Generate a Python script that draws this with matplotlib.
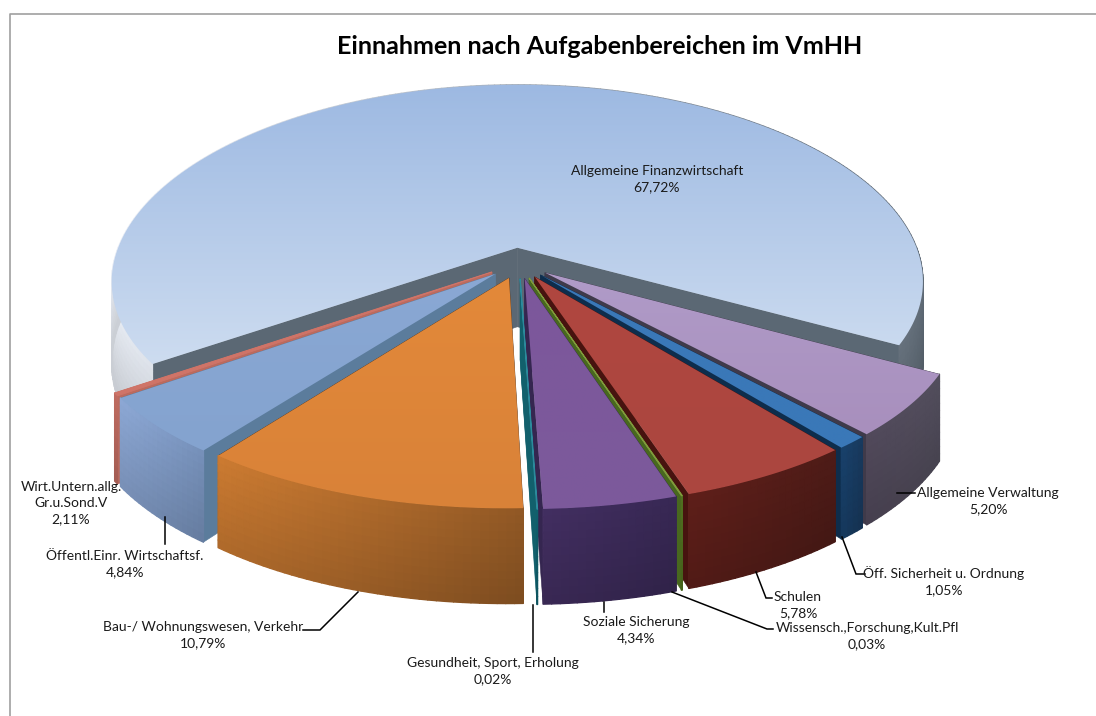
import numpy
import matplotlib
matplotlib.use("Agg")
import matplotlib.pyplot as plt
from matplotlib.collections import PolyCollection
from matplotlib.colors import to_rgb
from matplotlib.patches import Polygon

# clockwise from the end of the largest slice
categories = ["Allgemeine Verwaltung", "Öff. Sicherheit u. Ordnung", "Schulen", "Wissensch.,Forschung,Kult.Pfl",
    "Soziale Sicherung", "Gesundheit, Sport, Erholung", "Bau-/ Wohnungswesen, Verkehr", "Öffentl.Einr. Wirtschaftsf.",
    "Wirt.Untern.allg.\nGr.u.Sond.V", "Allgemeine Finanzwirtschaft"]
percentLabels = ["5,20%", "1,05%", "5,78%", "0,03%", "4,34%", "0,02%", "10,79%", "4,84%", "2,11%", "67,72%"]
# the red slice is drawn far thinner than its label says, the shares only reach 100 like this
shares = [5.20, 1.05, 5.78, 0.03, 4.34, 0.02, 10.79, 4.84, 0.23, 67.72]
topColorsA = ["#b09bc8", "#3a78b8", "#b0473f", "#7f9a3c", "#7c579b", "#2c8a9c", "#e3893a", "#8aa8d4", "#cf7468", "#9db9e2"]
topColorsB = ["#a88fbd", "#3a78b8", "#ab4640", "#7f9a3c", "#7c5a9c", "#2c8a9c", "#d98238", "#84a3cf", "#cf7468", "#cddcf0"]
wallColorsL = ["#4d4556", "#173f68", "#5a1d18", "#4c6a1e", "#3f2c5c", "#0f5c68", "#c2752f", "#86a0cb", "#b5665c", "#dfe3ea"]
wallColorsR = ["#4e4a58", "#17375a", "#4a1a16", "#4c6a1e", "#352650", "#0f5c68", "#8a5423", "#7089b0", "#b5665c", "#59646f"]
cutColors = ["#3f3a4a", "#0e2d4c", "#47130f", "#48681e", "#352650", "#12606c", "#5a3a20", "#5b7c9c", "#bb6a5e", "#5b6874"]
labelCenters = [(988, 501), (944, 581), (798, 605), (867, 636), (636, 630), (493, 671), (203, 635), (125, 564), (71, 503), (657, 179)]
leaderLines = [[(897, 493), (915, 493)], [(842, 537), (856, 574), (865, 574)], [(756, 572), (766, 598), (772, 598)],
    [(672, 592), (767, 629), (773, 629)], [(604, 602), (604, 612)], [(533, 605), (533, 652)],
    [(358, 592), (320, 630), (303, 630)], [(165, 517), (165, 544)], [], []]
title = "Einnahmen nach Aufgabenbereichen im VmHH"

startAngle = 119.0
centerX = 519.0
centerY = 263.0
radiusX = 405.0
radiusY = 191.3
perspectiveX = 0.18
perspectiveY = 0.1485
explode = 0.081
height = 80.0

def project(x, y, z = 0.0):
    scaleX = 1.0 / (1.0 + perspectiveX * y)
    scaleY = 1.0 / (1.0 + perspectiveY * y)
    return centerX + radiusX * x * scaleX, centerY - radiusY * y * scaleY + height * z * scaleY

def rimPoints(thetas, offset, z):
    points = []
    for theta in thetas:
        t = numpy.radians(theta)
        points.append(project(offset[0] + numpy.sin(t), offset[1] + numpy.cos(t), z))
    return points

def mix(colorA, colorB, f):
    a = numpy.array(to_rgb(colorA))
    b = numpy.array(to_rgb(colorB))
    return tuple(a + (b - a) * f)

def gradientFill(axes, points, colorA, colorB, zorder):
    # vertical gradient clipped to the polygon
    polygon = Polygon(points, closed = True, transform = axes.transData, facecolor = "none", edgecolor = "none")
    axes.add_patch(polygon)
    xs = [p[0] for p in points]
    ys = [p[1] for p in points]
    rows = numpy.linspace(0, 1, 64)
    image = numpy.array([[mix(colorA, colorB, f)] for f in rows])
    drawn = axes.imshow(image, extent = (min(xs) - 1, max(xs) + 1, max(ys) + 1, min(ys) - 1), aspect = "auto", zorder = zorder, interpolation = "bilinear")
    drawn.set_clip_path(polygon)

figure = plt.figure(figsize = (10.96, 7.16), dpi = 100)
axes = figure.add_axes([0, 0, 1, 1])
plt.rcParams["font.family"] = "Lato"

# cumulative angles, clockwise from straight back
angles = [startAngle]
for share in shares:
    angles.append(angles[-1] + share / sum(shares) * 360.0)
slices = []
for index in range(len(shares)):
    mid = numpy.radians((angles[index] + angles[index + 1]) / 2.0)
    slices.append((numpy.cos(mid), index))
slices.sort(reverse = True)

zorder = 2
rows = numpy.linspace(0, 1, 13)
for depth, index in slices:
    a0 = angles[index]
    a1 = angles[index + 1]
    mid = numpy.radians((a0 + a1) / 2.0)
    offset = (explode * numpy.sin(mid), explode * numpy.cos(mid))
    count = max(2, int((a1 - a0) / 1.0) + 2)
    thetas = numpy.linspace(a0, a1, count)
    apexTop = project(offset[0], offset[1], 0.0)
    apexBottom = project(offset[0], offset[1], 1.0)
    top = rimPoints(thetas, offset, 0.0)
    bottom = rimPoints(thetas, offset, 1.0)
    # radial cut faces
    for edge in (0, -1):
        axes.add_patch(Polygon([apexTop, top[edge], bottom[edge], apexBottom], closed = True, facecolor = cutColors[index], edgecolor = cutColors[index], linewidth = 0.4, zorder = zorder))
        zorder += 1
    # outer wall as small quads, shaded left to right and top to bottom
    quads = []
    colors = []
    for i in range(count - 1):
        if index == 9:
            f = (numpy.sin(numpy.radians(thetas[i])) + 1.0) / 2.0
        else:
            f = (top[i][0] - min(top[0][0], top[-1][0])) / max(1.0, abs(top[0][0] - top[-1][0]))
        base = mix(wallColorsL[index], wallColorsR[index], f)
        for j in range(len(rows) - 1):
            u0, u1 = rows[j], rows[j + 1]
            quads.append([
                (top[i][0], top[i][1] + (bottom[i][1] - top[i][1]) * u0),
                (top[i + 1][0], top[i + 1][1] + (bottom[i + 1][1] - top[i + 1][1]) * u0),
                (top[i + 1][0], top[i + 1][1] + (bottom[i + 1][1] - top[i + 1][1]) * u1),
                (top[i][0], top[i][1] + (bottom[i][1] - top[i][1]) * u1)])
            colors.append(tuple(min(1.0, c * (1.05 - 0.15 * u0)) for c in base))
    axes.add_collection(PolyCollection(quads, facecolors = colors, edgecolors = "face", linewidths = 1.0, zorder = zorder))
    zorder += 1
    # top surface
    outline = [apexTop] + top
    gradientFill(axes, outline, topColorsA[index], topColorsB[index], zorder)
    zorder += 1
    if a1 - a0 < 1.0:
        axes.add_patch(Polygon(outline, closed = True, facecolor = topColorsA[index], edgecolor = topColorsA[index], linewidth = 0.8, zorder = zorder))
        zorder += 1

for line in leaderLines:
    if len(line) > 0:
        axes.plot([p[0] for p in line], [p[1] for p in line], color = "black", linewidth = 1.1, solid_joinstyle = "miter", zorder = zorder)
zorder += 1

for index in range(len(categories)):
    axes.text(labelCenters[index][0], labelCenters[index][1], categories[index] + "\n" + percentLabels[index], ha = "center", va = "center",
        fontsize = 10, color = "#1a1a1a", linespacing = 1.4, zorder = zorder)

axes.text(600, 47, title, ha = "center", va = "center", fontsize = 18.1, fontweight = "bold", color = "black", zorder = zorder)

# chart frame
axes.plot([9.5, 9.5, 1096], [716, 13.5, 13.5], color = "#a0a0a0", linewidth = 1.2, zorder = 1)

axes.set_xlim(0, 1096)
axes.set_ylim(716, 0)
axes.axis("off")
figure.savefig("out.png", dpi = 100, facecolor = "white")
